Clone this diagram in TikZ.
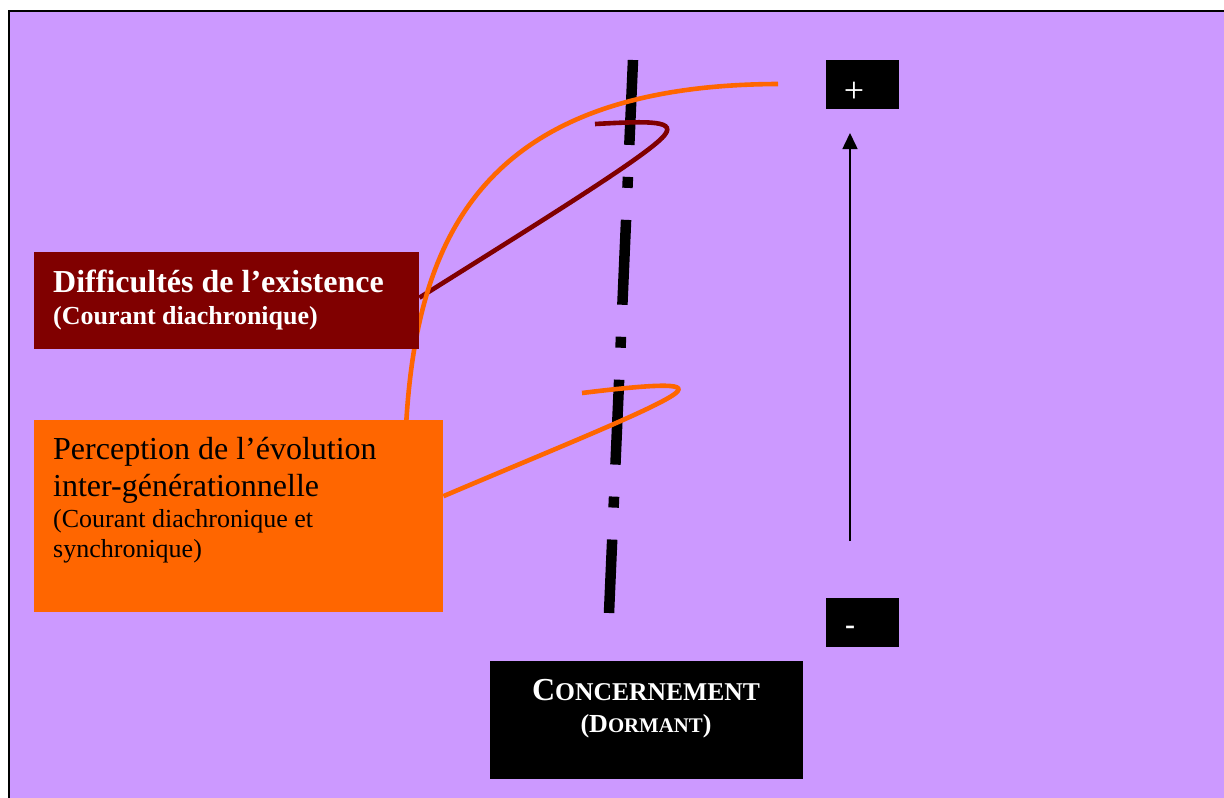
\documentclass[tikz,border=0pt]{standalone}
\usepackage{fontspec}
\setmainfont{Liberation Serif}
\usetikzlibrary{arrows.meta}
\definecolor{lilac}{HTML}{CC99FF}
\definecolor{maroon}{HTML}{800000}
\definecolor{tangerine}{HTML}{FF6600}
\pgfdeclarelayer{frame}
\pgfdeclarelayer{links}
\pgfsetlayers{frame,links,main}

\begin{document}
\begin{tikzpicture}[x=1pt,y=-1pt,
  panel/.style={draw=none, inner sep=0pt, anchor=north west},
  label/.style={inner sep=0pt, anchor=base west},
  bigfont/.style={font=\fontsize{32}{36}\selectfont},
  smallfont/.style={font=\fontsize{26}{30}\selectfont},
  axisline/.style={line width=10.5pt, dash pattern=on 85pt off 32pt on 11pt off 32pt},
  link/.style={line width=4.6pt, line cap=butt},
]
\path[use as bounding box] (0,0) rectangle (1224,798);
\clip (0,0) rectangle (1224,798);

\begin{pgfonlayer}{frame}
  \fill[white] (0,0) rectangle (1224,798);
  \draw[line width=2pt, fill=lilac] (9,11) rectangle (1240,812);
\end{pgfonlayer}

% boxes
\node[panel, fill=maroon, minimum width=385pt, minimum height=97pt] (diff) at (34,252) {};
\node[panel, fill=tangerine, minimum width=409pt, minimum height=192pt] (perc) at (34,420) {};
\node[panel, fill=black, minimum width=73pt, minimum height=49pt] (plus) at (826,60) {};
\node[panel, fill=black, minimum width=73pt, minimum height=49pt] (minus) at (826,598) {};
\node[panel, fill=black, minimum width=313pt, minimum height=118pt] (conc) at (490,661) {};

% box texts
\node[label, text=white, font=\fontsize{32}{36}\selectfont\bfseries] (diffA) at (53,292) {Difficultés de l’existence};
\node[label, text=white, font=\fontsize{26}{30}\selectfont\bfseries] (diffB) at (53,324) {(Courant diachronique)};

\node[label, bigfont] (percA) at (53,459) {Perception de l’évolution};
\node[label, bigfont] (percB) at (53,496) {inter-générationnelle};
\node[label, smallfont] (percC) at (53,527) {(Courant diachronique et};
\node[label, smallfont] (percD) at (53,557) {synchronique)};

\node[inner sep=0pt, anchor=base, text=white, font=\fontsize{32}{36}\selectfont\bfseries] (concA) at (646,700)
  {C{\fontsize{25.6}{30}\selectfont ONCERNEMENT}};
\node[inner sep=0pt, anchor=base, text=white, font=\fontsize{26}{30}\selectfont\bfseries] (concB) at (646,732)
  {(D{\fontsize{20.8}{24}\selectfont ORMANT})};

\node[inner sep=0pt, text=white, font=\fontsize{36}{40}\selectfont] (plusT) at (854,92) {+};
\node[inner sep=0pt, text=white, font=\fontsize{30}{34}\selectfont\bfseries] (minusT) at (850,630) {-};

% scale arrow
\coordinate (arrowFoot) at (850,541);
\coordinate (arrowTip) at (850,133);
\draw[line width=1.5pt, -{Triangle[width=15pt,length=16pt]}] (arrowFoot) -- (arrowTip);

% hooks on the axis and curve ends
\coordinate (axisTop) at (633,60);
\coordinate (axisBottom) at (609,613);
\coordinate (highEnd) at (778,84);
\coordinate (diffEnd) at (595,124);
\coordinate (percEnd) at (582,393);

\begin{pgfonlayer}{links}
  \draw[axisline] (axisTop) -- (axisBottom);
  \draw[link, maroon] ([yshift=3pt]diff.east)
    .. controls (540,222) and (640,160) .. (662,138)
    .. controls (680,120) and (650,121) .. (diffEnd);
  \draw[link, tangerine] ([yshift=20pt]perc.east)
    .. controls (540,455) and (640,415) .. (670,397)
    .. controls (690,385) and (680,381) .. (percEnd);
  \draw[link, tangerine] ([xshift=-37pt]perc.north east)
    .. controls (418,235) and (485,85) .. (highEnd);
\end{pgfonlayer}
\end{tikzpicture}
\end{document}
